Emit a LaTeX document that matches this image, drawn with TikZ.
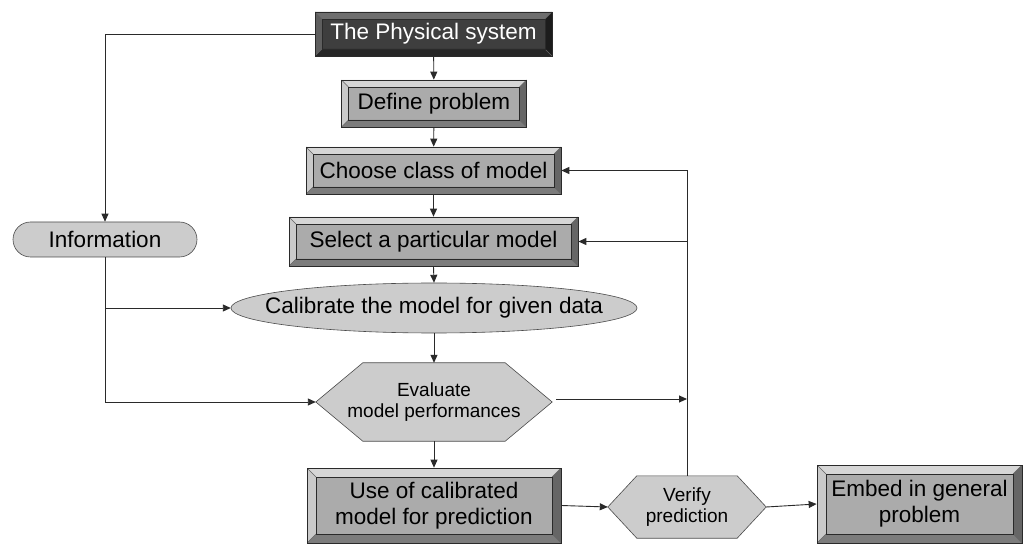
\documentclass[tikz,border=0pt]{standalone}
\usepackage{fontspec}
\setmainfont{Liberation Sans}
\usetikzlibrary{shapes.geometric,shapes.misc,arrows.meta,calc}
\pgfdeclarelayer{bg}\pgfsetlayers{bg,main}
\definecolor{face}{HTML}{ABABAB}
\definecolor{bvtop}{HTML}{D6D6D6}
\definecolor{bvleft}{HTML}{CACACA}
\definecolor{bvbot}{HTML}{7C7C7C}
\definecolor{bvright}{HTML}{666666}
\definecolor{dface}{HTML}{3E3E3E}
\definecolor{dtop}{HTML}{6E6E6E}
\definecolor{dleft}{HTML}{5E5E5E}
\definecolor{dbot}{HTML}{262626}
\definecolor{dright}{HTML}{1C1C1C}
\definecolor{softfill}{HTML}{CCCCCC}
\definecolor{ln}{HTML}{2A2A2A}
\newcommand\bevelpic[5]{%
 \coordinate (bNW) at (path picture bounding box.north west);
 \coordinate (bNE) at (path picture bounding box.north east);
 \coordinate (bSW) at (path picture bounding box.south west);
 \coordinate (bSE) at (path picture bounding box.south east);
 \coordinate (iNW) at ([shift={(#1,-#1)}]bNW);
 \coordinate (iNE) at ([shift={(-#1,-#1)}]bNE);
 \coordinate (iSW) at ([shift={(#1,#1)}]bSW);
 \coordinate (iSE) at ([shift={(-#1,#1)}]bSE);
 \fill[#2] (bNW)--(bNE)--(iNE)--(iNW)--cycle;
 \fill[#3] (bNW)--(iNW)--(iSW)--(bSW)--cycle;
 \fill[#4] (bSW)--(iSW)--(iSE)--(bSE)--cycle;
 \fill[#5] (bNE)--(bSE)--(iSE)--(iNE)--cycle;
 \draw[line width=0.5pt, black!60] (bNW)--(iNW) (bNE)--(iNE) (bSW)--(iSW) (bSE)--(iSE);
 \draw[line width=0.7pt, ln] (iNW) rectangle (iSE);
}
\newcommand\hexagon[2]{%
 \begin{pgfonlayer}{bg}
 \filldraw[fill=softfill, draw=ln!85, line width=0.6pt] (#1.west) -- ([xshift=#2]#1.north west) -- ([xshift=-#2]#1.north east) -- (#1.east) -- ([xshift=-#2]#1.south east) -- ([xshift=#2]#1.south west) -- cycle;
 \end{pgfonlayer}}
\tikzset{
 mainfont/.style={font=\fontsize{22.5}{26}\selectfont},
 bevbox/.style={draw=ln, line width=0.7pt, rectangle, inner sep=0pt, mainfont, align=center},
 litebox/.style={bevbox, fill=face, path picture={\bevelpic{#1}{bvtop}{bvleft}{bvbot}{bvright}}},
 litebox/.default=7pt,
 darkbox/.style={bevbox, fill=dface, text=white, path picture={\bevelpic{7pt}{dtop}{dleft}{dbot}{dright}}},
 hexnode/.style={rectangle, inner sep=0pt, font=\fontsize{19}{21}\selectfont, align=center},
 arr/.style={draw=ln, line width=0.9pt, -{Triangle[length=8pt,width=7pt]}},
}
\begin{document}
\begin{tikzpicture}[x=1pt,y=-1pt]
\useasboundingbox (0,0) rectangle (1023,545);
% nodes
\node[darkbox, minimum width=237pt, minimum height=44pt] (phys) at (433.5,34) {The Physical system};
\node[litebox, minimum width=185pt, minimum height=47pt] (def) at (434,103.5) {Define problem};
\node[litebox, minimum width=255pt, minimum height=47pt] (choose) at (433.5,170.5) {Choose class of model};
\node[litebox, minimum width=289pt, minimum height=49pt] (select) at (433.5,241.5) {Select a particular model};
\node[rectangle, inner sep=0pt, minimum width=406pt, minimum height=50pt, mainfont] (calib) at (434,308) {Calibrate the model for given data};
\begin{pgfonlayer}{bg}
\filldraw[fill=softfill, draw=ln!85, line width=0.6pt] (calib.center) ellipse [x radius=203pt, y radius=25pt];
\end{pgfonlayer}
\node[rounded rectangle, draw=ln!85, line width=0.6pt, fill=softfill, inner sep=0pt, minimum width=184pt, minimum height=35pt, mainfont] (info) at (105,239.5) {Information};
\node[hexnode, minimum width=236pt, minimum height=78pt] (eval) at (434,402) {Evaluate\\model performances};
\hexagon{eval}{47pt}
\node[litebox=9pt, minimum width=254pt, minimum height=75pt] (use) at (434,505.5) {Use of calibrated\\model for prediction};
\node[hexnode, minimum width=158pt, minimum height=62pt] (verify) at (687,507) {Verify\\prediction};
\hexagon{verify}{29pt}
\node[litebox=9pt, minimum width=205pt, minimum height=78pt] (embed) at (919.5,504) {Embed in general\\problem};
% connectors
\draw[arr] (phys) -- (def);
\draw[arr] (def) -- (choose);
\draw[arr] (choose) -- (select);
\draw[arr] (select.south) -- (calib.north);
\draw[arr] (calib.south) -- (eval.north);
\draw[arr] (eval.south) -- (use.north);
\draw[arr] (phys.west) -| (info.north);
\draw[arr] (info.south) |- (eval.west);
\draw[arr] (info.south |- calib.west) -- (calib.west);
\coordinate (fb) at (eval.east -| verify.north);
\draw[arr] ([xshift=4pt,yshift=3pt]eval.east) -- ([yshift=3pt]fb);
\draw[arr] (verify.north) |- (choose.east);
\draw[arr] (verify.north |- select.east) -- (select.east);
\draw[arr] (use.east) -- (verify.west);
\draw[arr] (verify.east) -- (embed.west);
\end{tikzpicture}
\end{document}
